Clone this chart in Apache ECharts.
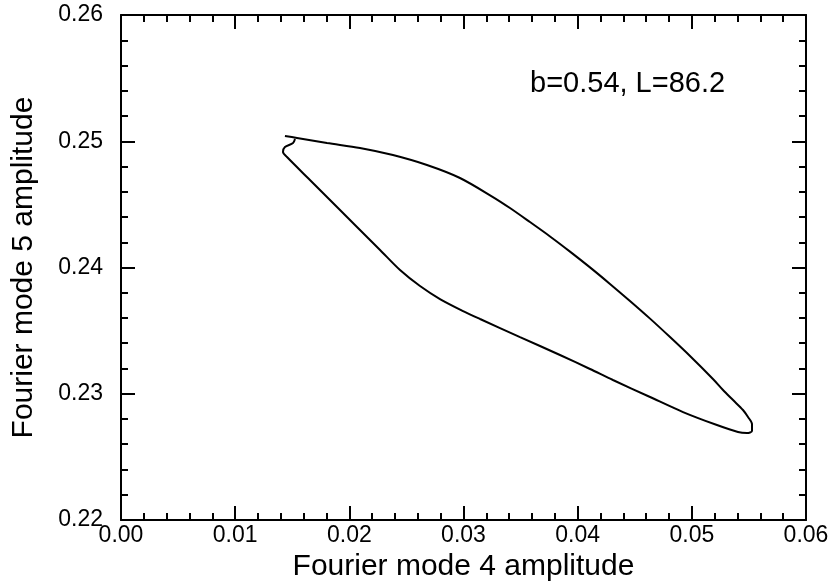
<!DOCTYPE html>
<html>
<head>
<meta charset="utf-8">
<script src="https://cdn.jsdelivr.net/npm/echarts@6/dist/echarts.min.js"></script>
<style>html,body{margin:0;padding:0;background:#fff}#c{width:832px;height:588px}</style>
</head>
<body>
<div id="c"></div>
<script>
// Fourier mode 4 amplitude (x) along the closed trajectory
var mode4 = [0.01436,0.01542,0.01804,0.02093,0.02382,0.02680,0.02969,0.03258,0.03407,0.03582,0.03758,0.03933,0.04108,0.04283,0.04458,0.04634,0.04809,0.04984,0.05185,0.05273,0.05361,0.05448,0.05492,0.05527,0.05527,0.05483,0.05404,0.05220,0.04923,0.04634,0.04309,0.04108,0.03845,0.03495,0.03145,0.02996,0.02794,0.02619,0.02444,0.02269,0.02067,0.01892,0.01655,0.01454,0.01419,0.01436,0.01507,0.01524];
// Fourier mode 5 amplitude (y)
var mode5 = [0.25042,0.25026,0.24986,0.24947,0.24891,0.24812,0.24709,0.24558,0.24471,0.24360,0.24246,0.24126,0.24001,0.23870,0.23735,0.23595,0.23449,0.23299,0.23117,0.23030,0.22950,0.22871,0.22816,0.22760,0.22705,0.22689,0.22697,0.22752,0.22855,0.22974,0.23109,0.23196,0.23307,0.23449,0.23592,0.23655,0.23750,0.23853,0.23980,0.24139,0.24321,0.24479,0.24693,0.24875,0.24915,0.24954,0.24986,0.25018];
var xTicks = [0.00,0.01,0.02,0.03,0.04,0.05,0.06];
var yTicks = [0.22,0.23,0.24,0.25,0.26];
var annotation = 'b=0.54, L=86.2';
var xTitle = 'Fourier mode 4 amplitude';
var yTitle = 'Fourier mode 5 amplitude';

var pts = mode4.map(function(v,i){return [v, mode5[i]];});
var FONT = '"Liberation Sans", Arial, sans-serif';
var XMIN = xTicks[0], XMAX = xTicks[xTicks.length-1];
var YMIN = yTicks[0], YMAX = yTicks[yTicks.length-1];

function mkAxis(kind, pos, labelled){
  var isX = kind === 'x';
  var a = {
    type:'value',
    min: isX?XMIN:YMIN, max: isX?XMAX:YMAX,
    interval: 0.01,
    position: pos,
    axisLine:{show:true, onZero:false, lineStyle:{color:'#000', width:2}},
    axisTick:{show:true, inside:true, length:14, lineStyle:{color:'#000', width:2}},
    minorTick:{show:true, splitNumber:5, length:7, lineStyle:{color:'#000', width:2}},
    axisLabel:{show:labelled, margin: isX?4:18, fontFamily:FONT, fontSize:23, color:'#000',
      formatter:function(v){return v.toFixed(2);}},
    splitLine:{show:false}
  };
  if (labelled) {
    a.name = isX?xTitle:yTitle;
    a.nameLocation = 'middle';
    a.nameGap = isX?28:82;
    if (!isX) a.nameRotate = 90;
    a.nameTextStyle = {fontFamily:FONT, fontSize:30, color:'#000'};
  }
  return a;
}
var chart = echarts.init(document.getElementById('c'), null, {renderer:'canvas'});
chart.setOption({
  animation:false,
  backgroundColor:'#fff',
  grid:{left:121, right:26, top:15, bottom:68, containLabel:false},
  xAxis:[mkAxis('x','bottom',true), mkAxis('x','top',false)],
  yAxis:[mkAxis('y','left',true), mkAxis('y','right',false)],
  graphic:[{type:'text', left:530, top:69, style:{text:annotation, fontFamily:FONT, fontSize:29, fill:'#000'}}],
  series:[{
    type:'line', data:pts, xAxisIndex:0, yAxisIndex:0,
    showSymbol:false, smooth:0.3,
    lineStyle:{color:'#000', width:2}
  }]
});
</script>
</body>
</html>
